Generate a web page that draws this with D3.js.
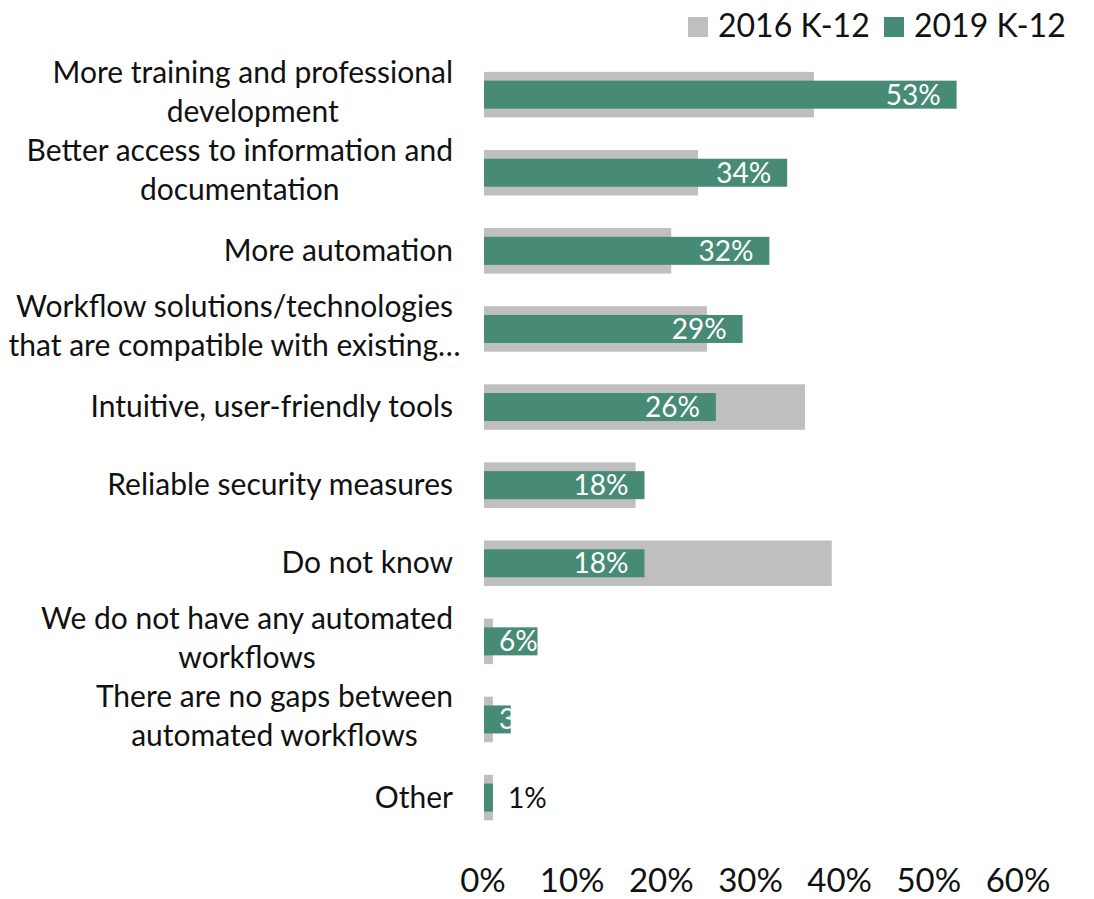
<!DOCTYPE html>
<html>
<head>
<meta charset="utf-8">
<script src="https://cdn.jsdelivr.net/npm/d3@7"></script>
<style>
  body { margin: 0; background: #fff; }
  svg { display: block; font-family: Lato, "Open Sans", sans-serif; }
</style>
</head>
<body>
<svg id="chart"></svg>
<script>
// data
var categories = [
    "More training and professional\ndevelopment",
    "Better access to information and\ndocumentation",
    "More automation",
    "Workflow solutions/technologies\nthat are compatible with existing…",
    "Intuitive, user-friendly tools",
    "Reliable security measures",
    "Do not know",
    "We do not have any automated\nworkflows",
    "There are no gaps between\nautomated workflows",
    "Other"
];
var values2016 = [37, 24, 21, 25, 36, 17, 39, 1, 1, 1];
var values2019 = [53, 34, 32, 29, 26, 18, 18, 6, 3, 1];
var seriesNames = ["2016 K-12", "2019 K-12"];
var tickValues = [0, 10, 20, 30, 40, 50, 60];

var width = 1094, height = 899;
var gray = "#bfbfbf", green = "#478a76";

var svg = d3.select("#chart")
    .attr("width", width)
    .attr("height", height);

var x = d3.scaleLinear().domain([0, 60]).range([484, 1019]);
var y = d3.scaleBand()
    .domain(d3.range(categories.length))
    .range([55.6, 836.6])
    .paddingInner(0.417)
    .paddingOuter(0.2085);

var greenH = y.bandwidth() * 0.615;

var rows = svg.append("g").selectAll("g")
    .data(categories.map((c, i) => ({ i: i, label: c, v16: values2016[i], v19: values2019[i] })))
    .enter().append("g");

// 2016 bars (wide, behind)
rows.append("rect")
    .attr("x", x(0))
    .attr("y", d => y(d.i))
    .attr("width", d => x(d.v16) - x(0))
    .attr("height", y.bandwidth())
    .attr("fill", gray);

// 2019 bars (narrow, on top)
rows.append("rect")
    .attr("x", x(0))
    .attr("y", d => y(d.i) + (y.bandwidth() - greenH) / 2)
    .attr("width", d => x(d.v19) - x(0))
    .attr("height", greenH)
    .attr("fill", green);

// clip for labels that run past the end of a short bar
rows.append("clipPath")
    .attr("id", d => "clip" + d.i)
    .append("rect")
    .attr("x", x(0))
    .attr("y", d => y(d.i))
    .attr("width", d => x(d.v19) - x(0))
    .attr("height", y.bandwidth());

// data labels
rows.each(function (d) {
    var row = d3.select(this);
    var cy = y(d.i) + y.bandwidth() / 2;
    var t = row.append("text")
        .attr("y", cy + 10)
        .attr("font-size", 28)
        .text(d.v19 + "%");
    var tw = t.node().getComputedTextLength();
    var barW = x(d.v19) - x(0);
    if (tw + 32 <= barW) {
        t.attr("x", x(d.v19) - 16).attr("text-anchor", "end").attr("fill", "#fff");
    } else if (d.v19 >= 2) {
        t.attr("x", x(0) + 15).attr("fill", "#fff").attr("clip-path", "url(#clip" + d.i + ")");
    } else {
        t.attr("x", x(d.v19) + 15).attr("fill", "#111");
    }
});

// category labels: lines centred on the first line, block right-aligned
rows.each(function (d) {
    var row = d3.select(this);
    var lines = d.label.split("\n");
    var cy = y(d.i) + y.bandwidth() / 2;
    var right = 453;
    var t = row.append("text")
        .attr("font-size", 30)
        .attr("fill", "#111");
    if (lines.length === 1) {
        t.attr("x", right).attr("y", cy + 10).attr("text-anchor", "end").text(lines[0]);
        return;
    }
    var spans = lines.map((l, k) => t.append("tspan").attr("y", cy - 12 + k * 39).text(l));
    var w1 = spans[0].node().getComputedTextLength();
    spans.forEach(s => s.attr("x", right - w1 / 2).attr("text-anchor", "middle"));
});

// x axis
var axis = svg.append("g")
    .attr("transform", "translate(-1.5,860)")
    .call(d3.axisBottom(x).tickValues(tickValues).tickFormat(d => d + "%").tickSize(0));
axis.select(".domain").remove();
axis.selectAll("text")
    .attr("y", 32)
    .attr("dy", 0)
    .attr("font-size", 33)
    .attr("font-family", "Lato, sans-serif")
    .attr("fill", "#111");

// legend
var legend = svg.append("g");
var legendX = [688, 884];
var legendColors = [gray, green];
seriesNames.forEach((name, i) => {
    legend.append("rect")
        .attr("x", legendX[i])
        .attr("y", 17)
        .attr("width", 20)
        .attr("height", 20)
        .attr("fill", legendColors[i]);
    legend.append("text")
        .attr("x", legendX[i] + 30)
        .attr("y", 37)
        .attr("font-size", 32)
        .attr("fill", "#111")
        .text(name);
});
</script>
</body>
</html>
